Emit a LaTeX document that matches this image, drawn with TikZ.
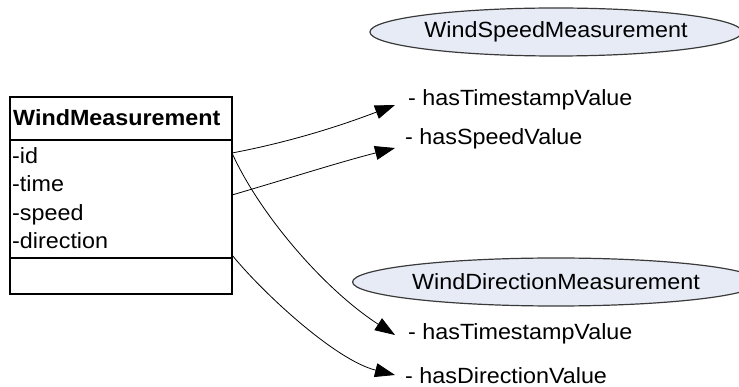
\documentclass[tikz,border=0pt]{standalone}
\usepackage{fontspec}
\setmainfont{Liberation Sans}[FakeStretch=1.06]
\usetikzlibrary{arrows.meta,shapes.geometric}
\definecolor{conceptfill}{HTML}{E6EBF6}
\definecolor{conceptline}{HTML}{3A3A3A}
\begin{document}
\begin{tikzpicture}[x=1pt,y=-1pt,
  txt/.style={font=\fontsize{22}{26}\selectfont},
  classbox/.style={draw=black,line width=1.8pt,minimum width=222pt,minimum height=197pt,inner sep=0pt},
  divider/.style={line width=1.8pt},
  attr/.style={txt,anchor=base west,inner sep=0pt},
  classname/.style={attr,font=\fontsize{22}{26}\selectfont\bfseries},
  concept/.style={txt,ellipse,draw=conceptline,line width=1.2pt,fill=conceptfill,
    minimum width=366pt,minimum height=48pt,inner sep=0pt},
  prop/.style={txt,anchor=base west,inner sep=0pt},
  link/.style={line width=0.8pt,-{Triangle[length=20pt,width=14pt]}}
]
\useasboundingbox (0,0) rectangle (739,387);

% UML class box with its two compartments
\node[classbox] (wm) at (121,195.5) {};
\coordinate (hdr) at (0,140);
\coordinate (ops) at (0,258);
\draw[divider] (wm.west |- hdr) -- (wm.east |- hdr);
\draw[divider] (wm.west |- ops) -- (wm.east |- ops);
\node[classname] (wmname) at (13,126) {WindMeasurement};
\node[attr] (aid) at (12,164) {-id};
\node[attr] (atime) at (12,192) {-time};
\node[attr] (aspeed) at (12,220.5) {-speed};
\node[attr] (adir) at (12,249) {-direction};

% ontology concepts
\node[concept] (speedc) at (556,32) {WindSpeedMeasurement};
\node[concept] (dirc) at (556,282) {WindDirectionMeasurement};

% properties
\node[prop] (ts1) at (408,106) {- hasTimestampValue};
\node[prop] (spd) at (405,145) {- hasSpeedValue};
\node[prop] (ts2) at (408,340) {- hasTimestampValue};
\node[prop] (dirv) at (405,383) {- hasDirectionValue};

% connector start points on the class box
\coordinate (s1) at (232,153);
\coordinate (s2) at (232,195);
\coordinate (s4) at (232,255);

\draw[link] (s1) .. controls (290,142) and (340,126) .. ([shift={(-13,-1)}]ts1.base west);
\draw[link] (s2) .. controls (290,178) and (340,162) .. ([shift={(-10,3)}]spd.base west);
\draw[link] (s1) .. controls (260,215) and (325,290) .. ([shift={(-13,-5)}]ts2.base west);
\draw[link] (s4) .. controls (262,292) and (335,360) .. ([shift={(-10,-8)}]dirv.base west);
\end{tikzpicture}
\end{document}
